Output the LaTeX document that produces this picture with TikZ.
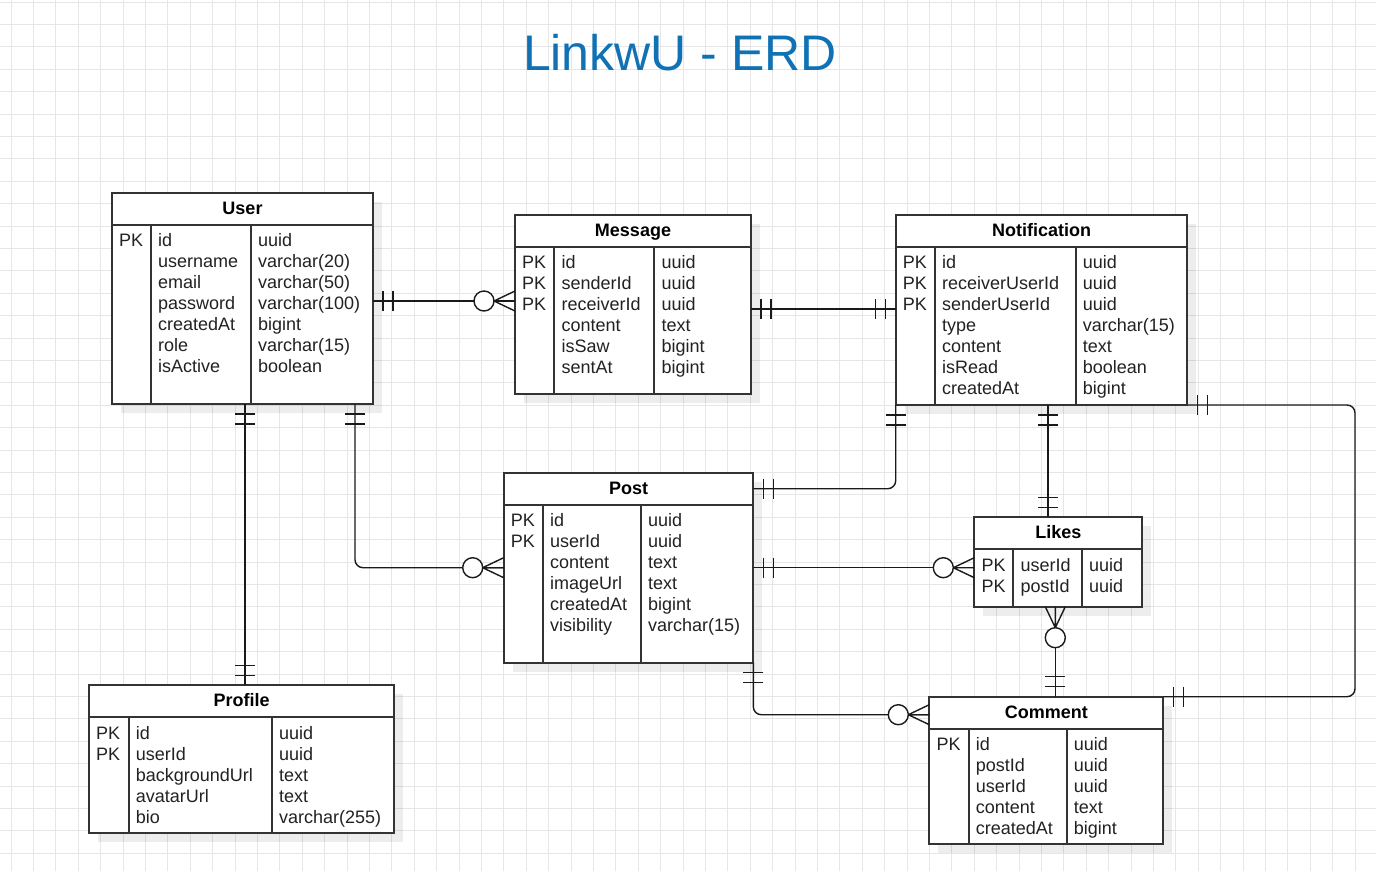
\documentclass[tikz,border=0pt]{standalone}
\usepackage{fontspec}
\setmainfont{Liberation Sans}
\usetikzlibrary{calc,shadows}
\definecolor{gridc}{HTML}{E6E6E6}
\definecolor{titleblue}{HTML}{1072B4}
\definecolor{edgec}{HTML}{333333}
\definecolor{connc}{HTML}{1A1A1A}
\definecolor{textc}{HTML}{222222}

\tikzset{
  gridline/.style={draw=gridc, line width=1pt},
  tbl/.style={rectangle, draw=edgec, line width=1.8pt, fill=white, inner sep=0pt, outer sep=0pt,
    anchor=north west,
    drop shadow={shadow xshift=9pt, shadow yshift=-9pt, fill=black, opacity=0.07, draw=none}},
  tblline/.style={draw=edgec, line width=1.8pt},
  hdr/.style={anchor=base, inner sep=0pt, font=\fontsize{18}{21}\selectfont\bfseries, text=black},
  cell/.style={anchor=base west, inner sep=0pt, font=\fontsize{18}{21}\selectfont, text=textc},
  titlestyle/.style={anchor=base, inner sep=0pt, font=\fontsize{50}{60}\selectfont, text=titleblue},
  conn/.style={draw=connc, line width=1.4pt, rounded corners=8pt},
  connline/.style={draw=connc, line width=1.4pt},
  mandone/.pic={\draw[connline] (10,-10) -- (10,10) (20,-10) -- (20,10);},
  zeromany/.pic={\draw[connline] (0,-10) -- (21,0) -- (0,10) (0,0) -- (21,0);
                 \draw[connline, fill=white] (31,0) circle[radius=10pt];}
}

\newcommand\erdbox[8]{%
  \node[tbl, minimum width=#4pt, minimum height=#5pt] (#1) at (#2,#3) {};
  \coordinate (#1-c1) at ({#2+#7},#3);
  \coordinate (#1-c2) at ({#2+#8},#3);
  \draw[tblline] ([yshift=-32pt]#1.north west) -- ([yshift=-32pt]#1.north east);
  \draw[tblline] ([yshift=-32pt]#1-c1) -- (#1-c1 |- #1.south);
  \draw[tblline] ([yshift=-32pt]#1-c2) -- (#1-c2 |- #1.south);
  \node[hdr] (#1-title) at ([yshift=-21.5pt]#1.north) {#6};
}
\newcommand\erdrows[4]{%
  \foreach \t [count=\i] in {#2} {\node[cell] (#1-k\i) at ($(#1.north west)+(7,{53.7+21*(\i-1)})$) {\t};}
  \foreach \t [count=\i] in {#3} {\node[cell] (#1-n\i) at ($(#1-c1)+(7,{53.7+21*(\i-1)})$) {\t};}
  \foreach \t [count=\i] in {#4} {\node[cell] (#1-t\i) at ($(#1-c2)+(7,{53.7+21*(\i-1)})$) {\t};}
}

\begin{document}
\begin{tikzpicture}[x=1pt,y=-1pt]
\useasboundingbox (0,0) rectangle (1376,871);
\fill[white] (0,0) rectangle (1376,871);
\foreach \i in {0,...,60} {\draw[gridline] ({11+22.4*\i},0) -- ({11+22.4*\i},871);}
\foreach \i in {0,...,38} {\draw[gridline] (0,{2+22.4*\i}) -- (1376,{2+22.4*\i});}

\node[titlestyle] (title) at (680,70.7) {LinkwU - ERD};

% tables
\erdbox{user}{112}{193}{261}{211}{User}{39}{139}
\erdrows{user}{PK}{id,username,email,password,createdAt,role,isActive}{uuid,varchar(20),varchar(50),varchar(100),bigint,varchar(15),boolean}

\erdbox{message}{515}{215}{236}{179}{Message}{39.3}{139.3}
\erdrows{message}{PK,PK,PK}{id,senderId,receiverId,content,isSaw,sentAt}{uuid,uuid,uuid,text,bigint,bigint}

\erdbox{notif}{895.7}{215}{291.6}{190}{Notification}{39.3}{180}
\erdrows{notif}{PK,PK,PK}{id,receiverUserId,senderUserId,type,content,isRead,createdAt}{uuid,uuid,uuid,varchar(15),text,boolean,bigint}

\erdbox{post}{503.7}{472.7}{249.6}{190}{Post}{39.3}{137.3}
\erdrows{post}{PK,PK}{id,userId,content,imageUrl,createdAt,visibility}{uuid,uuid,text,text,bigint,varchar(15)}

\erdbox{likes}{974.3}{517.3}{168}{89.4}{Likes}{39}{107.7}
\erdrows{likes}{PK,PK}{userId,postId}{uuid,uuid}

\erdbox{comment}{929.3}{696.7}{234}{147.6}{Comment}{39.4}{137.4}
\erdrows{comment}{PK}{id,postId,userId,content,createdAt}{uuid,uuid,uuid,text,bigint}

\erdbox{profile}{89}{685.3}{305.3}{148}{Profile}{39.7}{183}
\erdrows{profile}{PK,PK}{id,userId,backgroundUrl,avatarUrl,bio}{uuid,uuid,text,text,varchar(255)}

% connectors
% User - Message
\draw[conn] ([yshift=-2.5pt]user.east) coordinate (c1a) -- (c1a -| message.west) coordinate (c1b);
\pic at (c1a) {mandone};
\pic[rotate=180] at (c1b) {zeromany};
% Message - Notification
\draw[conn] ([yshift=-4.5pt]message.east) coordinate (c2a) -- (c2a -| notif.west) coordinate (c2b);
\pic at (c2a) {mandone};
\pic[rotate=180] at (c2b) {mandone};
% User - Profile
\draw[conn] ([xshift=2.5pt]user.south) coordinate (c3a) -- (c3a |- profile.north) coordinate (c3b);
\pic[rotate=-90] at (c3a) {mandone};
\pic[rotate=90] at (c3b) {mandone};
% User - Post
\draw[conn] ([xshift=112.5pt]user.south) coordinate (c4a) |- (post.west) coordinate (c4b);
\pic[rotate=-90] at (c4a) {mandone};
\pic[rotate=180] at (c4b) {zeromany};
% Notification - Post
\draw[conn] (notif.south west) coordinate (c5a) |- ([yshift=-16pt]post.north east) coordinate (c5b);
\pic[rotate=-90] at (c5a) {mandone};
\pic at (c5b) {mandone};
% Notification - Likes
\draw[conn] ([xshift=6.5pt]notif.south) coordinate (c6a) -- (c6a |- likes.north) coordinate (c6b);
\pic[rotate=-90] at (c6a) {mandone};
\pic[rotate=90] at (c6b) {mandone};
% Post - Likes
\draw[conn] (post.east) coordinate (c7a) -- (c7a -| likes.west) coordinate (c7b);
\pic at (c7a) {mandone};
\pic[rotate=180] at (c7b) {zeromany};
% Likes - Comment
\draw[conn] ([xshift=-3pt]likes.south) coordinate (c8a) -- (c8a |- comment.north) coordinate (c8b);
\pic[rotate=-90] at (c8a) {zeromany};
\pic[rotate=90] at (c8b) {mandone};
% Post - Comment
\draw[conn] (post.south east) coordinate (c9a) |- ([yshift=-18pt]comment.north west) coordinate (c9b);
\pic[rotate=-90] at (c9a) {mandone};
\pic[rotate=180] at (c9b) {zeromany};
% Notification - Comment
\coordinate (rbend) at (1355,405);
\draw[conn] (notif.south east) coordinate (c10a) -| (rbend |- comment.north east) -- (comment.north east) coordinate (c10b);
\pic at (c10a) {mandone};
\pic at (c10b) {mandone};
\end{tikzpicture}
\end{document}
